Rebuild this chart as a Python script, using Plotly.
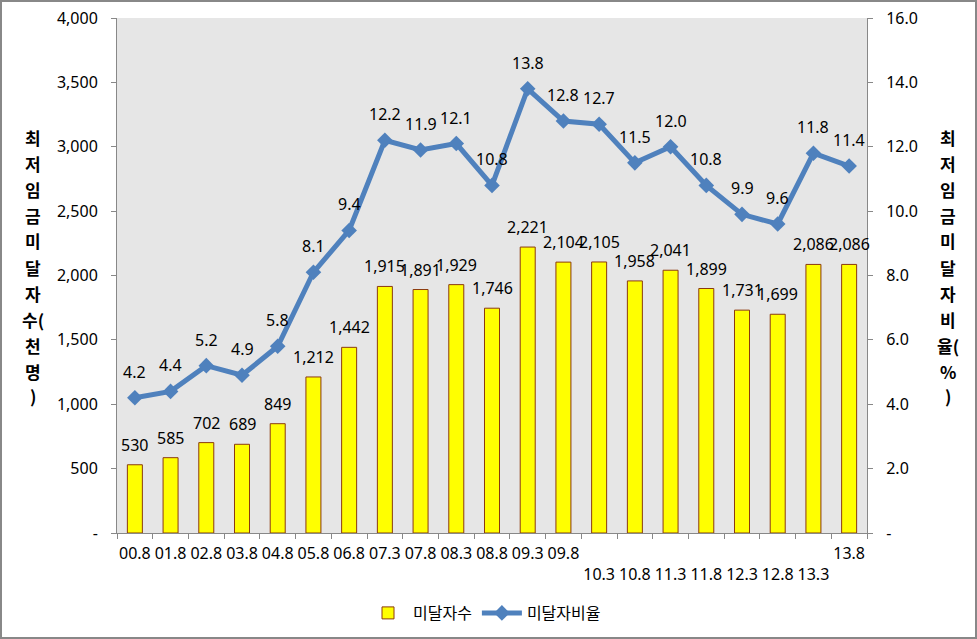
import plotly.graph_objects as go

categories = ["00.8", "01.8", "02.8", "03.8", "04.8", "05.8", "06.8", "07.3", "07.8", "08.3",
              "08.8", "09.3", "09.8", "10.3", "10.8", "11.3", "11.8", "12.3", "12.8", "13.3", "13.8"]
tick_labels = ["00.8", "01.8", "02.8", "03.8", "04.8", "05.8", "06.8", "07.3", "07.8", "08.3",
               "08.8", "09.3", "09.8", "<br>10.3", "<br>10.8", "<br>11.3", "<br>11.8", "<br>12.3",
               "<br>12.8", "<br>13.3", "13.8"]
counts = [530, 585, 702, 689, 849, 1212, 1442, 1915, 1891, 1929, 1746, 2221, 2104, 2105, 1958,
          2041, 1899, 1731, 1699, 2086, 2086]
rates = [4.2, 4.4, 5.2, 4.9, 5.8, 8.1, 9.4, 12.2, 11.9, 12.1, 10.8, 13.8, 12.8, 12.7, 11.5,
         12.0, 10.8, 9.9, 9.6, 11.8, 11.4]
left_ticks = [0, 500, 1000, 1500, 2000, 2500, 3000, 3500, 4000]
left_tick_text = ["-", "500", "1,000", "1,500", "2,000", "2,500", "3,000", "3,500", "4,000"]
right_ticks = [0, 2, 4, 6, 8, 10, 12, 14, 16]
right_tick_text = ["-", "2.0", "4.0", "6.0", "8.0", "10.0", "12.0", "14.0", "16.0"]
left_title = ["최", "저", "임", "금", "미", "달", "자", "수(", "천", "명", ")"]
right_title = ["최", "저", "임", "금", "미", "달", "자", "비", "율(", "%", ")"]

NUM_FONT = "Noto Sans"
KR_FONT = "Noto Sans CJK KR"
BLUE = "#4F81BD"

W, H = 977, 639
ML, MR, MT, MB = 117, 110, 18, 106
PW, PH = W - ML - MR, H - MT - MB

idx = list(range(len(categories)))

fig = go.Figure()
fig.add_trace(go.Bar(
    x=idx, y=counts, name="미달자수",
    marker=dict(color="#FFFF00", line=dict(color="#8B3A0F", width=1)),
    width=0.42,
))
fig.add_trace(go.Scatter(
    x=idx, y=rates, name="미달자비율", yaxis="y2",
    mode="lines+markers",
    line=dict(color=BLUE, width=5),
    marker=dict(symbol="diamond", size=12, color=BLUE),
    cliponaxis=False,
))

def px_to_paper_y(py):
    return (MT + PH - py) / PH

def px_to_paper_x(px):
    return (px - ML) / PW

annotations = []
for i, v in zip(idx, counts):
    annotations.append(dict(text=f"{v:,}", x=i, y=v, xref="x", yref="y", showarrow=False,
                            yanchor="middle", yshift=20,
                            font=dict(family=NUM_FONT, size=16, color="black")))
for i, v in zip(idx, rates):
    annotations.append(dict(text=f"{v:.1f}", x=i, y=v, xref="x", yref="y2", showarrow=False,
                            yanchor="middle", yshift=26,
                            font=dict(family=NUM_FONT, size=16, color="black")))
for i, ch in enumerate(left_title):
    y = 137 + i * 26 if i < 10 else 137 + 9 * 26 + 24
    annotations.append(dict(text=ch, xref="paper", yref="paper", x=px_to_paper_x(33),
                            y=px_to_paper_y(y), showarrow=False, xanchor="center", yanchor="middle",
                            font=dict(family=KR_FONT, size=17, color="black", weight="bold")))
for i, ch in enumerate(right_title):
    y = 137 + i * 26 if i < 10 else 137 + 9 * 26 + 24
    annotations.append(dict(text=ch, xref="paper", yref="paper", x=px_to_paper_x(948),
                            y=px_to_paper_y(y), showarrow=False, xanchor="center", yanchor="middle",
                            font=dict(family=KR_FONT, size=17, color="black", weight="bold")))

fig.update_layout(
    width=W, height=H,
    margin=dict(l=ML, r=MR, t=MT, b=MB, autoexpand=False),
    paper_bgcolor="white", plot_bgcolor="#E6E6E6",
    showlegend=True,
    legend=dict(orientation="h", x=0.49, xanchor="center", y=px_to_paper_y(613), yanchor="middle",
                font=dict(family=KR_FONT, size=16, color="black"), itemwidth=40,
                bgcolor="rgba(0,0,0,0)"),
    xaxis=dict(range=[-0.5, len(categories) - 0.5], tickmode="array",
               tickvals=idx, ticktext=tick_labels,
               ticks="", tickangle=0, ticklabelstandoff=6,
               showline=True, linecolor="#888888", linewidth=1, showgrid=False, zeroline=False,
               tickfont=dict(family=NUM_FONT, size=16, color="black")),
    xaxis2=dict(range=[-0.5, len(categories) - 0.5], overlaying="x", side="bottom",
                tickmode="array", tickvals=[i - 0.5 for i in range(len(categories) + 1)],
                showticklabels=False, ticks="outside", ticklen=5, tickcolor="#888888",
                showgrid=False, zeroline=False, showline=False),
    yaxis=dict(range=[0, 4000], tickmode="array", tickvals=left_ticks, ticktext=left_tick_text,
               ticks="outside", ticklen=5, tickcolor="#888888", showline=True,
               ticklabelstandoff=10,
               linecolor="#888888", showgrid=False, zeroline=False,
               tickfont=dict(family=NUM_FONT, size=16, color="black")),
    yaxis2=dict(range=[0, 16], overlaying="y", side="right", tickmode="array",
                tickvals=right_ticks, ticktext=right_tick_text,
                ticks="outside", ticklen=5, tickcolor="#888888", showline=True,
                ticklabelstandoff=10,
                linecolor="#888888", showgrid=False, zeroline=False,
                tickfont=dict(family=NUM_FONT, size=16, color="black")),
    annotations=annotations,
    shapes=[dict(type="rect", xref="paper", yref="paper",
                 x0=px_to_paper_x(1), x1=px_to_paper_x(W - 1),
                 y0=px_to_paper_y(H - 1), y1=px_to_paper_y(1),
                 line=dict(color="#888888", width=2), layer="above")],
)

# invisible helper trace so the boundary-tick axis (xaxis2) is rendered
fig.add_trace(go.Scatter(x=[None], y=[None], xaxis="x2", showlegend=False, hoverinfo="skip"))

fig.write_html("out.html", config={"displayModeBar": False},
               post_script="document.body.style.margin='0';document.body.style.overflow='hidden';")
